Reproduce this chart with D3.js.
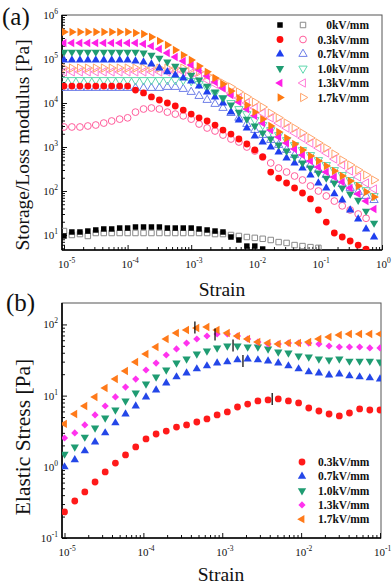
<!DOCTYPE html>
<html>
<head>
<meta charset="utf-8">
<script src="https://cdn.jsdelivr.net/npm/d3@7"></script>
<style>
  body { margin: 0; background: #fff; }
  svg { display: block; font-family: "Liberation Serif", "Times New Roman", serif; }
</style>
</head>
<body>
<div id="chart"></div>
<script>
// ---------------------------//
//          DATA              //
// ---------------------------//

// (a) strain sweep, 8 points per decade
const strainA = [
  1.00e-5, 1.33e-5, 1.78e-5, 2.37e-5, 3.16e-5, 4.22e-5, 5.62e-5, 7.50e-5,
  1.00e-4, 1.33e-4, 1.78e-4, 2.37e-4, 3.16e-4, 4.22e-4, 5.62e-4, 7.50e-4,
  1.00e-3, 1.33e-3, 1.78e-3, 2.37e-3, 3.16e-3, 4.22e-3, 5.62e-3, 7.50e-3,
  1.00e-2, 1.33e-2, 1.78e-2, 2.37e-2, 3.16e-2, 4.22e-2, 5.62e-2, 7.50e-2,
  1.00e-1, 1.33e-1, 1.78e-1, 2.37e-1, 3.16e-1, 4.22e-1, 5.62e-1, 7.50e-1
];

// storage (filled) and loss (open) modulus [Pa]
const storage0 = [9.5, 11.7, 11.7, 12.3, 13.0, 13.7, 13.7, 14.4, 14.4, 15.2, 15.2, 15.2, 15.2,
  14.4, 14.4, 14.4, 14.4, 13.7, 13.0, 12.3, 11.7, 9.0, 7.7, 5.6, 5.6, 4.8];
const loss0 = [12.3, 10.0, 10.5, 9.5, 11.1, 11.1, 11.1, 11.1, 11.1, 11.1, 11.1, 11.1, 11.1,
  11.1, 11.1, 11.1, 11.1, 11.1, 11.1, 10.5, 10.5, 10.0, 9.5, 9.0, 8.6, 8.2, 7.7, 6.9, 6.6,
  5.9, 5.6, 5.3, 5.1];
const storage03 = [2.43e4, 2.43e4, 2.43e4, 2.43e4, 2.43e4, 2.43e4, 2.43e4, 2.43e4, 2.43e4,
  1.97e4, 1.69e4, 1.37e4, 1.17e4, 1.0e4, 8.55e3, 6.9e3, 5.6e3, 4.6e3, 3.9e3, 3.16e3, 2.43e3,
  1.97e3, 1.52e3, 1.17e3, 855, 593, 270, 197, 152, 117, 90, 66, 37, 19.7, 11.1, 9.0, 7.3, 5.9, 4.8];
const loss03 = [2.85e3, 2.85e3, 2.85e3, 3.0e3, 3.16e3, 3.5e3, 3.9e3, 4.3e3, 4.6e3, 6.2e3, 7.3e3,
  7.7e3, 7.3e3, 6.2e3, 5.6e3, 5.1e3, 4.3e3, 3.33e3, 2.7e3, 2.31e3, 1.87e3, 1.52e3, 1.3e3, 1.0e3,
  811, 593, 433, 333, 270, 219, 178, 130, 100, 77, 59, 46, 37, 30, 24];
const storage07 = [9.5e4, 9.5e4, 9.5e4, 9.5e4, 9.5e4, 9.5e4, 9.5e4, 9.5e4, 9.5e4, 9.0e4, 8.55e4,
  7.7e4, 6.2e4, 5.1e4, 4.3e4, 3.7e4, 3.16e4, 2.43e4, 1.78e4, 1.37e4, 1.0e4, 6.2e3, 4.1e3, 2.7e3,
  1.78e3, 1.3e3, 1.0e3, 770, 562, 433, 333, 231, 152, 117, 86, 62, 37, 23, 13.7, 9.0];
const loss07 = [2.19e4, 2.19e4, 2.19e4, 2.19e4, 2.19e4, 2.19e4, 2.19e4, 2.19e4, 2.19e4, 2.19e4,
  2.19e4, 2.19e4, 2.19e4, 2.31e4, 2.31e4, 2.08e4, 1.78e4, 1.44e4, 1.17e4, 9.5e3, 7.7e3, 5.9e3,
  4.6e3, 3.33e3, 2.43e3, 1.87e3, 1.44e3, 1.11e3, 855, 658, 506, 390, 300, 231, 178, 144, 117,
  95, 77, 62];
const storage10 = [1.44e5, 1.44e5, 1.44e5, 1.44e5, 1.44e5, 1.44e5, 1.44e5, 1.44e5, 1.44e5, 1.44e5,
  1.37e5, 1.23e5, 1.05e5, 8.55e4, 6.9e4, 5.6e4, 4.3e4, 3.33e4, 2.43e4, 1.78e4, 1.3e4, 9.0e3,
  6.2e3, 4.3e3, 3.0e3, 2.08e3, 1.52e3, 1.11e3, 811, 593, 433, 333, 257, 197, 152, 117, 86, 62,
  35, 18.7];
const loss10 = [3.33e4, 3.33e4, 3.33e4, 3.33e4, 3.33e4, 3.33e4, 3.33e4, 3.33e4, 3.33e4, 3.33e4,
  3.33e4, 3.33e4, 3.33e4, 3.33e4, 3.33e4, 3.33e4, 3.16e4, 2.7e4, 2.19e4, 1.69e4, 1.3e4, 1.0e4,
  7.3e3, 5.6e3, 4.1e3, 3.16e3, 2.43e3, 1.87e3, 1.44e3, 1.11e3, 855, 658, 506, 390, 300, 231,
  178, 137, 105, 77];
const storage13 = [2.31e5, 2.31e5, 2.31e5, 2.31e5, 2.31e5, 2.31e5, 2.31e5, 2.31e5, 2.31e5, 2.31e5,
  2.19e5, 1.97e5, 1.69e5, 1.37e5, 1.11e5, 9.0e4, 7.3e4, 5.6e4, 4.1e4, 3.0e4, 2.19e4, 1.52e4,
  1.05e4, 7.3e3, 5.1e3, 3.5e3, 2.43e3, 1.69e3, 1.23e3, 900, 658, 481, 351, 270, 208, 160, 117,
  86, 59, 39];
const loss13 = [5.1e4, 5.1e4, 5.1e4, 5.1e4, 5.1e4, 5.1e4, 5.1e4, 5.1e4, 5.1e4, 5.1e4, 5.1e4,
  5.1e4, 5.1e4, 5.1e4, 5.1e4, 5.1e4, 4.8e4, 4.1e4, 3.33e4, 2.7e4, 2.19e4, 1.69e4, 1.3e4, 1.0e4,
  7.7e3, 5.9e3, 4.6e3, 3.5e3, 2.7e3, 2.08e3, 1.6e3, 1.23e3, 949, 731, 534, 390, 285, 208, 152, 111];
const storage17 = [4.11e5, 4.11e5, 4.11e5, 4.11e5, 4.11e5, 4.11e5, 4.11e5, 4.11e5, 4.11e5, 3.9e5,
  3.7e5, 3.16e5, 2.57e5, 2.08e5, 1.6e5, 1.23e5, 9.5e4, 6.9e4, 5.1e4, 3.7e4, 2.7e4, 1.87e4, 1.3e4,
  9.0e3, 6.2e3, 4.3e3, 3.0e3, 2.19e3, 1.6e3, 1.17e3, 855, 624, 481, 370, 285, 219, 169, 130, 95, 73];
const loss17 = [6.2e4, 6.2e4, 6.2e4, 6.2e4, 6.2e4, 6.2e4, 6.2e4, 6.2e4, 6.2e4, 6.2e4, 6.2e4,
  6.2e4, 6.2e4, 6.2e4, 6.2e4, 6.2e4, 5.9e4, 5.1e4, 4.3e4, 3.5e4, 2.85e4, 2.31e4, 1.78e4, 1.37e4,
  1.05e4, 8.1e3, 5.9e3, 4.6e3, 3.5e3, 2.7e3, 2.08e3, 1.6e3, 1.23e3, 949, 693, 506, 390, 300, 231, 178];

const legendA = ["0kV/mm", "0.3kV/mm", "0.7kV/mm", "1.0kV/mm", "1.3kV/mm", "1.7kV/mm"];

// (b) elastic stress [Pa], 32 log spaced strains from 1e-5 to 1e-1
const strainB = [
  1.00e-5, 1.35e-5, 1.81e-5, 2.44e-5, 3.28e-5, 4.42e-5, 5.94e-5, 8.00e-5,
  1.08e-4, 1.45e-4, 1.95e-4, 2.63e-4, 3.53e-4, 4.76e-4, 6.40e-4, 8.61e-4,
  1.16e-3, 1.56e-3, 2.10e-3, 2.83e-3, 3.81e-3, 5.13e-3, 6.90e-3, 9.29e-3,
  1.25e-2, 1.68e-2, 2.26e-2, 3.05e-2, 4.10e-2, 5.52e-2, 7.43e-2, 1.00e-1
];
const stress03 = [0.232, 0.331, 0.444, 0.612, 0.846, 1.13, 1.47, 1.90, 2.46, 2.89, 3.18, 3.62,
  3.87, 4.26, 4.70, 5.35, 5.89, 6.92, 7.62, 8.41, 8.69, 8.97, 8.41, 7.88, 6.70, 6.08, 5.52, 5.18,
  5.70, 6.49, 6.28, 6.28];
const stress07 = [0.995, 1.25, 1.67, 2.23, 2.99, 4.13, 5.52, 7.15, 9.57, 12.0, 15.0, 18.3, 20.8,
  23.7, 26.1, 28.7, 29.7, 31.7, 32.7, 31.7, 30.6, 28.7, 26.1, 23.7, 21.5, 20.8, 19.5, 20.1, 18.9,
  18.3, 17.7, 17.1];
const stress10 = [1.51, 1.90, 2.62, 3.51, 4.85, 6.28, 8.41, 10.9, 14.6, 18.3, 22.9, 28.7, 32.7,
  38.4, 42.4, 46.7, 49.8, 49.8, 48.2, 48.2, 45.2, 41.0, 39.7, 36.0, 34.9, 32.7, 31.7, 32.7, 30.6,
  30.6, 30.6, 29.7];
const stress13 = [2.54, 2.99, 3.87, 5.35, 7.15, 9.57, 13.2, 17.1, 22.9, 28.7, 37.2, 45.2, 54.8,
  62.4, 68.8, 73.4, 73.4, 68.8, 62.4, 56.6, 53.1, 53.1, 54.8, 54.8, 54.8, 53.1, 49.8, 48.2, 48.2,
  48.2, 46.7, 46.7];
const stress17 = [4.00, 5.52, 7.15, 9.57, 12.8, 17.1, 22.2, 29.7, 38.4, 48.2, 62.4, 75.8, 83.5,
  89.1, 92.0, 83.5, 75.8, 68.8, 62.4, 56.6, 54.8, 53.1, 54.8, 54.8, 56.6, 62.4, 66.6, 71.1, 73.4,
  73.4, 73.4, 73.4];

// yield points marked by short bars (0.3 .. 1.7 kV/mm)
const yieldStrain = [4.3e-3, 1.83e-3, 1.37e-3, 8.1e-4, 4.5e-4];
const yieldStress = [8.97, 30.6, 50.6, 72.2, 90.5];

const legendB = ["0.3kV/mm", "0.7kV/mm", "1.0kV/mm", "1.3kV/mm", "1.7kV/mm"];

// tick values
const xTicksA = [1e-5, 1e-4, 1e-3, 1e-2, 1e-1, 1];
const yTicksA = [1e1, 1e2, 1e3, 1e4, 1e5, 1e6];
const xTicksB = [1e-5, 1e-4, 1e-3, 1e-2, 1e-1];
const yTicksB = [1e-1, 1e0, 1e1, 1e2];

// ---------------------------//
//       SET  CANVAS          //
// ---------------------------//
const svg = d3.select("#chart")
  .append("svg")
  .attr("width", 392)
  .attr("height", 585);

const boxA = {l: 62, r: 382, t: 15, b: 250};
const boxB = {l: 62, r: 381, t: 303, b: 538};

const xA = d3.scaleLog().domain([1e-5, 1]).range([64, 382]);
const yA = d3.scaleLog().domain([4.56, 1e6]).range([boxA.b, boxA.t]);
const xB = d3.scaleLog().domain([1e-5, 1e-1]).range([64.5, 380]);
const yB = d3.scaleLog().domain([0.1, 200]).range([boxB.b, boxB.t]);

// marker shapes: [symbol, rotation, size]
const sym = {
  square: [d3.symbolSquare, 0, 30],
  circle: [d3.symbolCircle, 0, 36],
  up: [d3.symbolTriangle, 0, 30],
  down: [d3.symbolTriangle, 180, 30],
  left: [d3.symbolTriangle, -90, 30],
  right: [d3.symbolTriangle, 90, 30],
  diamond: [d3.symbolSquare, 45, 26]
};

function marker(g, shape, color, filled, cx, cy) {
  const [type, rot, size] = sym[shape];
  return g.append("path")
    .attr("d", d3.symbol().type(type).size(size)())
    .attr("transform", `translate(${cx},${cy}) rotate(${rot})`)
    .attr("fill", filled ? color : "none")
    .attr("stroke", filled ? "none" : color)
    .attr("stroke-width", 1);
}

function drawPoints(g, xs, ys, x, y, shape, color, filled) {
  const [type, rot, size] = sym[shape];
  const path = d3.symbol().type(type).size(size)();
  g.selectAll(null)
    .data(ys.map((v, i) => [xs[i], v]))
    .enter()
    .append("path")
    .attr("d", path)
    .attr("transform", d => `translate(${x(d[0])},${y(d[1])}) rotate(${rot})`)
    .attr("fill", filled ? color : "none")
    .attr("stroke", filled ? "none" : color)
    .attr("stroke-width", 1);
}

function minorTicks(scale) {
  const [a, b] = scale.domain();
  const out = [];
  for (let e = Math.floor(Math.log10(a)); e <= Math.ceil(Math.log10(b)); e++) {
    for (let k = 2; k <= 9; k++) {
      const v = k * Math.pow(10, e);
      if (v > a && v < b) out.push(v);
    }
  }
  return out;
}

function powLabel(text, v) {
  text.append("tspan").attr("font-size", 11).text("10");
  text.append("tspan").attr("font-size", 7.5).attr("dy", -5)
    .text(String(Math.round(Math.log10(v))).replace("-", "-"));
}

function drawAxes(box, x, y, xMaj, yMaj, id) {
  // clip for the markers
  svg.append("clipPath").attr("id", id)
    .append("rect")
    .attr("x", box.l).attr("y", box.t)
    .attr("width", box.r - box.l).attr("height", box.b - box.t);

  // frame
  svg.append("rect")
    .attr("x", box.l).attr("y", box.t)
    .attr("width", box.r - box.l).attr("height", box.b - box.t)
    .attr("fill", "none").attr("stroke", "#555").attr("stroke-width", 1);

  const bottom = svg.append("g").attr("transform", `translate(0,${box.b})`);
  bottom.append("g").call(d3.axisBottom(x).tickValues(xMaj).tickSize(-5).tickFormat(""));
  bottom.append("g").call(d3.axisBottom(x).tickValues(minorTicks(x)).tickSize(-3).tickFormat(""));

  const left = svg.append("g").attr("transform", `translate(${box.l},0)`);
  left.append("g").call(d3.axisLeft(y).tickValues(yMaj).tickSize(-5).tickFormat(""));
  left.append("g").call(d3.axisLeft(y).tickValues(minorTicks(y)).tickSize(-3).tickFormat(""));

  svg.selectAll(".domain").remove();
  svg.selectAll(".tick line").attr("stroke", "#111").attr("stroke-width", 1);

  svg.append("line")
    .attr("x1", box.l).attr("x2", box.r).attr("y1", box.b).attr("y2", box.b)
    .attr("stroke", "#000").attr("stroke-width", 1.6);
  svg.append("line")
    .attr("x1", box.l).attr("x2", box.l).attr("y1", box.t).attr("y2", box.b)
    .attr("stroke", "#000").attr("stroke-width", 1.6);

  // tick labels
  xMaj.forEach(v => {
    const t = svg.append("text")
      .attr("x", x(v) - 6).attr("y", box.b + 18)
      .attr("fill", "#111");
    powLabel(t, v);
  });
  yMaj.forEach(v => {
    const t = svg.append("text")
      .attr("x", box.l - 4).attr("y", y(v) + 4)
      .attr("text-anchor", "end")
      .attr("fill", "#111");
    powLabel(t, v);
  });
}

// ---------------------------//
//         PLOT  (a)          //
// ---------------------------//
const styleA = [
  {shape: "square", fill: "#000000", open: "#8a8a8a"},
  {shape: "circle", fill: "#ff0d0d", open: "#ff5d9c"},
  {shape: "up", fill: "#1f3fef", open: "#6f7fe8"},
  {shape: "down", fill: "#1f9c72", open: "#5ed8ae"},
  {shape: "left", fill: "#ff1fe6", open: "#ff7ad6"},
  {shape: "right", fill: "#ff7a12", open: "#ffa46b"}
];
const storageA = [storage0, storage03, storage07, storage10, storage13, storage17];
const lossA = [loss0, loss03, loss07, loss10, loss13, loss17];

drawAxes(boxA, xA, yA, xTicksA, yTicksA, "clipA");

const gA = svg.append("g").attr("clip-path", "url(#clipA)");
lossA.forEach((s, k) => drawPoints(gA, strainA, s, xA, yA, styleA[k].shape, styleA[k].open, false));
storageA.forEach((s, k) => drawPoints(gA, strainA, s, xA, yA, styleA[k].shape, styleA[k].fill, true));

// legend (a)
legendA.forEach((lab, k) => {
  const ly = 25 + k * 14.5;
  marker(svg, styleA[k].shape, styleA[k].fill, true, 280, ly);
  marker(svg, styleA[k].shape, styleA[k].open, false, 303, ly);
  svg.append("text")
    .attr("x", 369).attr("y", ly + 4)
    .attr("text-anchor", "end")
    .attr("font-size", 11.5).attr("font-weight", "bold")
    .attr("fill", "#111")
    .text(lab);
});

// axis titles (a)
svg.append("text")
  .attr("transform", "translate(29,145) rotate(-90)")
  .attr("text-anchor", "middle")
  .attr("font-size", 19.5)
  .attr("fill", "#111")
  .text("Storage/Loss modulus [Pa]");
svg.append("text")
  .attr("x", 222).attr("y", 296)
  .attr("text-anchor", "middle")
  .attr("font-size", 19.5)
  .attr("fill", "#111")
  .text("Strain");
svg.append("text")
  .attr("x", 2).attr("y", 25)
  .attr("font-size", 25)
  .attr("fill", "#111")
  .text("(a)");

// ---------------------------//
//         PLOT  (b)          //
// ---------------------------//
const styleB = [
  {shape: "circle", color: "#ff1a1a"},
  {shape: "up", color: "#2447e8"},
  {shape: "down", color: "#1f9c72"},
  {shape: "diamond", color: "#ff33ee"},
  {shape: "left", color: "#ff7a1a"}
];
const stressB = [stress03, stress07, stress10, stress13, stress17];

drawAxes(boxB, xB, yB, xTicksB, yTicksB, "clipB");

const gB = svg.append("g").attr("clip-path", "url(#clipB)");
stressB.forEach((s, k) => drawPoints(gB, strainB, s, xB, yB, styleB[k].shape, styleB[k].color, true));

// yield markers
gB.selectAll(null)
  .data(yieldStrain.map((v, i) => [v, yieldStress[i]]))
  .enter()
  .append("line")
  .attr("x1", d => xB(d[0])).attr("x2", d => xB(d[0]))
  .attr("y1", d => yB(d[1]) - 6).attr("y2", d => yB(d[1]) + 6)
  .attr("stroke", "#111").attr("stroke-width", 1.3);

// legend (b)
legendB.forEach((lab, k) => {
  const ly = 462 + k * 14.3;
  marker(svg, styleB[k].shape, styleB[k].color, true, 302, ly);
  svg.append("text")
    .attr("x", 318).attr("y", ly + 4)
    .attr("font-size", 11.5).attr("font-weight", "bold")
    .attr("fill", "#111")
    .text(lab);
});

// axis titles (b)
svg.append("text")
  .attr("transform", "translate(30,437) rotate(-90)")
  .attr("text-anchor", "middle")
  .attr("font-size", 21.5)
  .attr("fill", "#111")
  .text("Elastic Stress [Pa]");
svg.append("text")
  .attr("x", 221).attr("y", 581)
  .attr("text-anchor", "middle")
  .attr("font-size", 19.5)
  .attr("fill", "#111")
  .text("Strain");
svg.append("text")
  .attr("x", 6).attr("y", 311)
  .attr("font-size", 25)
  .attr("fill", "#111")
  .text("(b)");
</script>
</body>
</html>
